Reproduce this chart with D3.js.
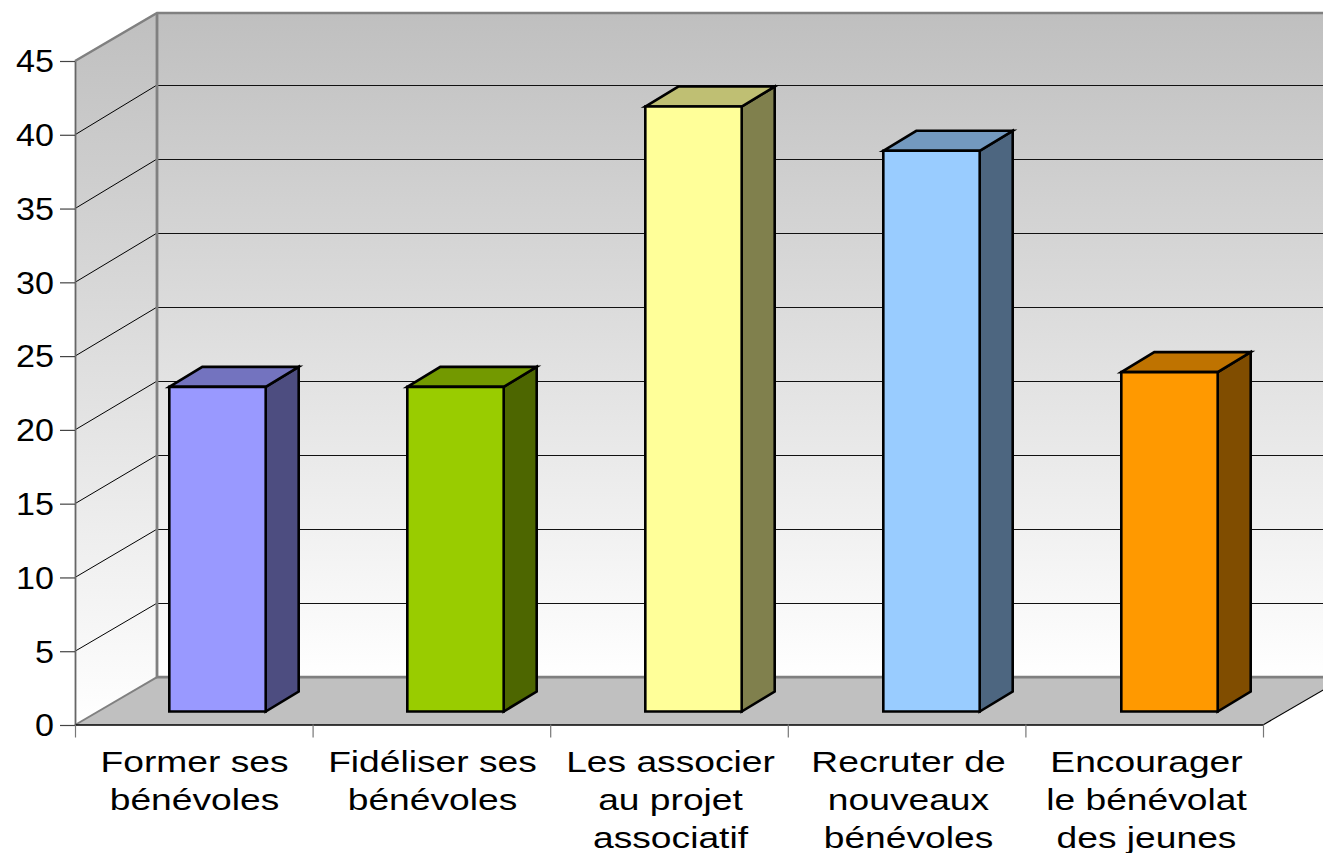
<!DOCTYPE html>
<html>
<head>
<meta charset="utf-8">
<script src="https://d3js.org/d3.v7.min.js"></script>
<style>
html,body{margin:0;padding:0;background:#fff;overflow:hidden}
svg{display:block}
text{font-family:"Liberation Sans",Arial,sans-serif;fill:#000}
</style>
</head>
<body>
<svg id="c" width="1323" height="853"></svg>
<script>
const categoryLines = [
  ["Former ses","bénévoles"],
  ["Fidéliser ses","bénévoles"],
  ["Les associer","au projet","associatif"],
  ["Recruter de","nouveaux","bénévoles"],
  ["Encourager","le bénévolat","des jeunes"]
];
const values = [22, 22, 41, 38, 23];
const frontColors = ["#9999ff","#99cc00","#ffff99","#99ccff","#ff9900"];
const sideColors  = ["#4d4d80","#4d6600","#80804d","#4d6680","#804d00"];
const topColors   = ["#7373bf","#739900","#bfbf73","#7399bf","#bf7300"];
const yTicks = [0,5,10,15,20,25,30,35,40,45];

const svg = d3.select("#c");
const W = 1323;
const y = d3.scaleLinear().domain([0,45]).range([725,61]);
const yBack = d3.scaleLinear().domain([0,45]).range([677.2,11]);
const xEdge = d3.scaleLinear().domain([0,5]).range([75,1263]);
const x = d3.scaleBand().domain(d3.range(5)).range([76,1266]).paddingInner(0.595).paddingOuter(0.2975);

const depthX = 82;
const backX = xEdge(0)+depthX, backTop = 13, backFloor = yBack(0);
const barShiftX = 22.5, barBaseY = 711.5, barShiftY = barBaseY - y(0);
const barDX = 33, barDY = -20;

const defs = svg.append("defs");
const g = defs.append("linearGradient").attr("id","wall").attr("x1",0).attr("y1",0).attr("x2",0).attr("y2",1);
g.append("stop").attr("offset","0%").attr("stop-color","#bfbfbf");
g.append("stop").attr("offset","100%").attr("stop-color","#ffffff");
const line = d3.line();

// walls
svg.append("rect")
  .attr("x",backX).attr("y",backTop)
  .attr("width",W-backX).attr("height",backFloor-backTop)
  .attr("fill","url(#wall)");
svg.append("path")
  .attr("d",line([[xEdge(0),y(45)],[backX,backTop],[backX,backFloor],[xEdge(0),y(0)]])+"Z")
  .attr("fill","url(#wall)");
// floor
svg.append("path")
  .attr("d",line([[xEdge(0),y(0)],[backX,backFloor],[W+10,backFloor],[xEdge(5)+depthX,backFloor],[xEdge(5),y(0)]])+"Z")
  .attr("fill","#c0c0c0");

// grid lines
const grid = svg.append("g").attr("fill","none").attr("stroke","#000");
yTicks.filter(d=>d>0 && d<45).forEach(d=>{
  grid.append("path")
    .attr("d",line([[xEdge(0),y(d)],[backX,yBack(d)]]))
    .attr("stroke-width",1);
  grid.append("path")
    .attr("d",line([[backX,yBack(d)],[W,yBack(d)]]))
    .attr("stroke-width",1).attr("stroke","#111").attr("shape-rendering","crispEdges");
});

// frame
const frame = "#808080";
svg.append("path")
  .attr("d",line([[xEdge(0),y(45)],[backX,backTop],[W,backTop]]))
  .attr("fill","none").attr("stroke",frame).attr("stroke-width",2.5);
svg.append("path")
  .attr("d",line([[backX,backTop],[backX,backFloor],[W,backFloor]]))
  .attr("fill","none").attr("stroke",frame).attr("stroke-width",2.8);
svg.append("path")
  .attr("d",line([[xEdge(0),y(0)],[backX,backFloor]]))
  .attr("fill","none").attr("stroke",frame).attr("stroke-width",2);
svg.append("path")
  .attr("d",line([[xEdge(5),y(0)],[xEdge(5)+depthX,backFloor]]))
  .attr("fill","none").attr("stroke","#000").attr("stroke-width",1.1);

// bars
const bars = svg.append("g").selectAll("g").data(values).join("g")
  .attr("stroke","#000").attr("stroke-width",2.6).attr("stroke-linejoin","miter");
function corners(d,i){
  const x0 = x(i)+barShiftX, x1 = x0+x.bandwidth();
  const yb = y(0)+barShiftY, yt = y(d)+barShiftY;
  return {x0,x1,yb,yt};
}
bars.append("path").attr("fill",(d,i)=>sideColors[i]).attr("d",(d,i)=>{
  const c = corners(d,i);
  return line([[c.x1,c.yb],[c.x1,c.yt],[c.x1+barDX,c.yt+barDY],[c.x1+barDX,c.yb+barDY]])+"Z";
});
bars.append("path").attr("fill",(d,i)=>topColors[i]).attr("d",(d,i)=>{
  const c = corners(d,i);
  return line([[c.x0,c.yt],[c.x0+barDX,c.yt+barDY],[c.x1+barDX,c.yt+barDY],[c.x1,c.yt]])+"Z";
});
bars.append("path").attr("fill",(d,i)=>frontColors[i]).attr("d",(d,i)=>{
  const c = corners(d,i);
  return line([[c.x0,c.yb],[c.x0,c.yt],[c.x1,c.yt],[c.x1,c.yb]])+"Z";
});

// y axis
const yAxis = svg.append("g").attr("transform",`translate(${xEdge(0)},0)`)
  .call(d3.axisLeft(y).tickValues(yTicks).tickSize(15).tickSizeOuter(0));
yAxis.select(".domain").attr("stroke","#666").attr("stroke-width",1.8);
yAxis.selectAll(".tick line").attr("stroke","#444").attr("stroke-width",1.2);
yAxis.selectAll(".tick text")
  .attr("x",0).attr("dy","0.35em").attr("text-anchor","end")
  .attr("transform","translate(-21,0) scale(1.1,1)")
  .style("font-family",'"Liberation Sans",Arial,sans-serif')
  .style("font-size","31px").attr("fill","#000");

// x axis (ticks on category edges)
const xAxis = svg.append("g").attr("transform",`translate(0,${y(0)-0.5})`)
  .call(d3.axisBottom(xEdge).ticks(5).tickSize(13).tickSizeOuter(0).tickFormat(""));
xAxis.select(".domain").attr("stroke","#000").attr("stroke-width",1.4);
xAxis.selectAll(".tick line").attr("stroke","#777").attr("stroke-width",1.2);

// category labels
const lab = svg.append("g").selectAll("g").data(categoryLines).join("g")
  .attr("transform",(d,i)=>`translate(${x(i)+x.bandwidth()/2-0.5},0)`);
lab.selectAll("text").data(d=>d).join("text")
  .attr("text-anchor","middle")
  .attr("transform",(d,j)=>`translate(0,${772+38*j}) scale(1.24,1)`)
  .style("font-size","30px")
  .text(d=>d);
</script>
</body>
</html>
